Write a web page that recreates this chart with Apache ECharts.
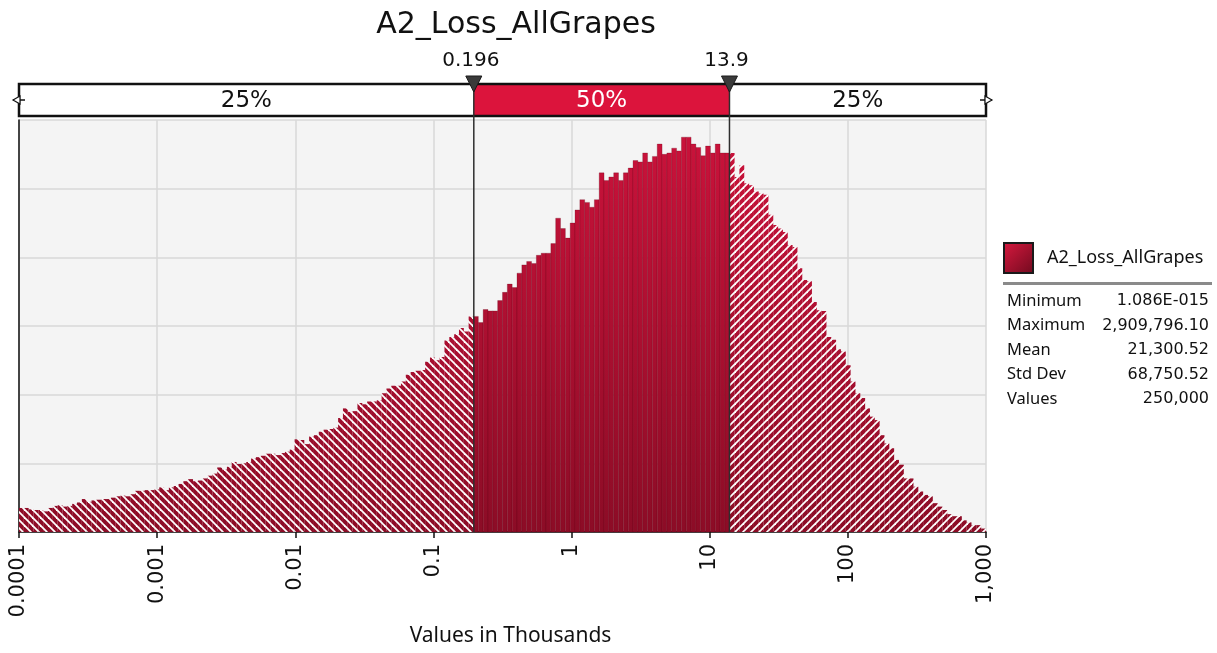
<!DOCTYPE html>
<html>
<head>
<meta charset="utf-8">
<script src="https://cdn.jsdelivr.net/npm/echarts/dist/echarts.min.js"></script>
<style>
  html, body { margin: 0; padding: 0; background: #fff; }
  #chart { width: 1217px; height: 653px; }
</style>
</head>
<body>
<div id="chart"></div>
<script>
// histogram: 200 log-spaced bins from 0.0001 to 1,000 (values in thousands)
const binLogMin = -4
const binLogMax = 3
const binHeights = [
  0.35, 0.35, 0.33, 0.32, 0.32, 0.30, 0.35, 0.38, 0.39, 0.37,
  0.38, 0.41, 0.43, 0.48, 0.44, 0.46, 0.47, 0.48, 0.48, 0.50,
  0.52, 0.53, 0.52, 0.55, 0.60, 0.60, 0.61, 0.61, 0.62, 0.65,
  0.61, 0.65, 0.67, 0.70, 0.74, 0.77, 0.74, 0.75, 0.78, 0.82,
  0.85, 0.94, 0.91, 0.95, 1.02, 0.99, 1.00, 1.02, 1.07, 1.09,
  1.11, 1.14, 1.14, 1.12, 1.15, 1.17, 1.20, 1.35, 1.34, 1.28,
  1.39, 1.41, 1.46, 1.49, 1.50, 1.52, 1.66, 1.80, 1.75, 1.76,
  1.88, 1.86, 1.90, 1.90, 1.92, 2.02, 2.09, 2.13, 2.13, 2.19,
  2.29, 2.33, 2.35, 2.36, 2.48, 2.54, 2.50, 2.55, 2.79, 2.84,
  2.88, 2.97, 2.92, 3.14, 3.14, 3.05, 3.24, 3.22, 3.22, 3.37,
  3.49, 3.61, 3.56, 3.77, 3.89, 3.94, 3.91, 4.03, 4.06, 4.06,
  4.20, 4.57, 4.42, 4.28, 4.50, 4.69, 4.84, 4.80, 4.73, 4.84,
  5.23, 5.12, 5.17, 5.23, 5.12, 5.23, 5.30, 5.41, 5.39, 5.52,
  5.39, 5.47, 5.65, 5.50, 5.52, 5.59, 5.55, 5.75, 5.75, 5.65,
  5.60, 5.48, 5.62, 5.52, 5.65, 5.52, 5.52, 5.52, 5.17, 5.34,
  5.08, 5.05, 4.96, 4.93, 4.91, 4.62, 4.47, 4.42, 4.37, 4.18,
  4.15, 3.84, 3.67, 3.65, 3.35, 3.23, 3.22, 2.84, 2.80, 2.66,
  2.63, 2.43, 2.19, 2.02, 1.95, 1.80, 1.68, 1.63, 1.41, 1.29,
  1.22, 1.05, 0.98, 0.78, 0.78, 0.66, 0.59, 0.54, 0.52, 0.42,
  0.37, 0.32, 0.26, 0.23, 0.23, 0.17, 0.14, 0.10, 0.10, 0.05
]
const quantiles = [0.196, 13.9]
const quantileLabels = ['0.196', '13.9']
const shareLabels = ['25%', '50%', '25%']
const xTicks = [0.0001, 0.001, 0.01, 0.1, 1, 10, 100, 1000]
const xTickLabels = ['0.0001', '0.001', '0.01', '0.1', '1', '10', '100', '1,000']
const statNames = ['Minimum', 'Maximum', 'Mean', 'Std Dev', 'Values']
const statValues = ['1.086E-015', '2,909,796.10', '21,300.52', '68,750.52', '250,000']
const seriesName = 'A2_Loss_AllGrapes'

const FONT = 'DejaVu Sans'
const FONT2 = 'Noto Sans'

// bins split at the two quantile markers
const step = (binLogMax - binLogMin) / binHeights.length
const leftBins = []
const midBins = []
const rightBins = []
binHeights.forEach(function (h, i) {
  const lo = Math.pow(10, binLogMin + i * step)
  const hi = Math.pow(10, binLogMin + (i + 1) * step)
  if (lo < quantiles[0]) leftBins.push([lo, Math.min(hi, quantiles[0]), h])
  if (hi > quantiles[0] && lo < quantiles[1]) midBins.push([Math.max(lo, quantiles[0]), Math.min(hi, quantiles[1]), h])
  if (hi > quantiles[1]) rightBins.push([Math.max(lo, quantiles[1]), hi, h])
})

// fill tile: vertical red gradient, optional white diagonal hatching
function makeTile (dir) {
  const w = 8
  const h = 653
  const c = document.createElement('canvas')
  c.width = w
  c.height = h
  const ctx = c.getContext('2d')
  const g = ctx.createLinearGradient(0, 150, 0, 532)
  g.addColorStop(0, '#c8123a')
  g.addColorStop(1, '#8c0c26')
  ctx.fillStyle = g
  ctx.fillRect(0, 0, w, h)
  if (dir) {
    ctx.strokeStyle = '#ffffff'
    ctx.lineWidth = 1.9
    for (let k = -h - w; k <= 2 * h; k += w) {
      ctx.beginPath()
      ctx.moveTo(k, 0)
      ctx.lineTo(dir > 0 ? k + h : k - h, h)
      ctx.stroke()
    }
  }
  return c
}
const solidFill = { image: makeTile(0), repeat: 'repeat' }
const backFill = { image: makeTile(1), repeat: 'repeat' }
const fwdFill = { image: makeTile(-1), repeat: 'repeat' }

function binRenderer (fill, stroke) {
  return function (params, api) {
    const a = api.coord([api.value(0), 0])
    const b = api.coord([api.value(1), api.value(2)])
    return {
      type: 'rect',
      shape: { x: a[0], y: b[1], width: b[0] - a[0], height: a[1] - b[1] },
      style: { fill: fill, stroke: stroke, lineWidth: stroke ? 0.7 : 0 }
    }
  }
}

const chart = echarts.init(document.getElementById('chart'))

const option = {
  animation: false,
  backgroundColor: '#ffffff',
  title: {
    text: 'A2_Loss_AllGrapes',
    left: 511,
    textAlign: 'center',
    top: 5,
    textStyle: { fontFamily: FONT, fontSize: 30, fontWeight: 'normal', color: '#111' }
  },
  legend: {
    data: [seriesName],
    left: 1003,
    top: 242,
    padding: 0,
    icon: 'rect',
    itemWidth: 29,
    itemHeight: 30,
    itemStyle: {
      color: new echarts.graphic.LinearGradient(0, 0, 1, 1, [
        { offset: 0, color: '#d8193f' },
        { offset: 1, color: '#700a1e' }
      ]),
      borderColor: '#1a1a1a',
      borderWidth: 2
    },
    textStyle: { fontFamily: FONT2, fontSize: 18, color: '#111', padding: [0, 0, 0, 9] }
  },
  grid: {
    left: 19,
    right: 231,
    top: 120,
    bottom: 121,
    show: true,
    backgroundColor: '#f4f4f4',
    borderWidth: 0,
    containLabel: false,
    outerBoundsMode: 'none'
  },
  xAxis: {
    type: 'log',
    logBase: 10,
    min: xTicks[0],
    max: xTicks[xTicks.length - 1],
    splitNumber: 7,
    name: 'Values in Thousands',
    nameLocation: 'middle',
    nameGap: 94,
    nameTextStyle: { fontFamily: FONT2, fontSize: 21, color: '#111', padding: [0, 0, 0, 16] },
    axisLine: { show: true, lineStyle: { color: '#111', width: 1.5 } },
    axisTick: { show: true, length: 6, lineStyle: { color: '#111', width: 1.5 } },
    minorTick: { show: false },
    axisLabel: {
      rotate: 90,
      margin: 12,
      fontFamily: FONT,
      fontSize: 21,
      color: '#111',
      showMinLabel: true,
      showMaxLabel: true,
      formatter: function (v) {
        const i = xTicks.findIndex(function (t) { return Math.abs(Math.log10(t) - Math.log10(v)) < 1e-6 })
        return i >= 0 ? xTickLabels[i] : ''
      }
    },
    splitLine: { show: true, lineStyle: { color: '#d8d8d8', width: 1.5 } }
  },
  yAxis: {
    type: 'value',
    min: 0,
    max: 6,
    interval: 1,
    axisLine: { show: true, lineStyle: { color: '#111', width: 1.5 } },
    axisTick: { show: false },
    axisLabel: { show: false },
    splitLine: { show: true, lineStyle: { color: '#d8d8d8', width: 1.5 } }
  },
  series: [
    {
      name: 'lower 25%',
      type: 'custom',
      renderItem: binRenderer(backFill, null),
      encode: { x: [0, 1], y: 2 },
      data: leftBins,
      z: 2
    },
    {
      name: seriesName,
      type: 'custom',
      renderItem: binRenderer(solidFill, 'rgba(95,0,20,0.35)'),
      encode: { x: [0, 1], y: 2 },
      data: midBins,
      z: 2
    },
    {
      name: 'upper 25%',
      type: 'custom',
      renderItem: binRenderer(fwdFill, null),
      encode: { x: [0, 1], y: 2 },
      data: rightBins,
      z: 2
    }
  ]
}
chart.setOption(option)

// percentile band, markers and statistics panel placed through the axis scale
function overlay () {
  const xp = function (v) { return chart.convertToPixel({ xAxisIndex: 0 }, v) }
  const y0 = chart.convertToPixel({ yAxisIndex: 0 }, 0)
  const xs = [xp(xTicks[0]), xp(quantiles[0]), xp(quantiles[1]), xp(xTicks[xTicks.length - 1])]
  const bandTop = 84
  const bandH = 32
  const els = []
  const fills = ['#ffffff', '#dc143c', '#ffffff']
  const textColors = ['#111', '#ffffff', '#111']
  for (let i = 0; i < 3; i++) {
    els.push({
      type: 'rect',
      shape: { x: xs[i], y: bandTop, width: xs[i + 1] - xs[i], height: bandH },
      style: { fill: fills[i] },
      z: 10
    })
    els.push({
      type: 'text',
      x: (xs[i] + xs[i + 1]) / 2,
      y: bandTop + bandH / 2 + 1,
      style: {
        text: shareLabels[i], fill: textColors[i], fontFamily: FONT, fontSize: 23,
        align: 'center', verticalAlign: 'middle'
      },
      z: 12
    })
  }
  els.push({
    type: 'rect',
    shape: { x: xs[0], y: bandTop, width: xs[3] - xs[0], height: bandH },
    style: { fill: 'none', stroke: '#111', lineWidth: 2.5 },
    z: 11
  })
  // end handles
  els.push({
    type: 'polyline',
    shape: { points: [[xs[0] - 6, bandTop + bandH / 2], [xs[0] + 6, bandTop + bandH / 2]] },
    style: { stroke: '#111', lineWidth: 1.5 },
    z: 12
  })
  els.push({
    type: 'polygon',
    shape: { points: [[xs[0] - 6, bandTop + bandH / 2], [xs[0] + 1, bandTop + bandH / 2 - 4], [xs[0] + 1, bandTop + bandH / 2 + 4]] },
    style: { fill: '#fff', stroke: '#111', lineWidth: 1.2 },
    z: 12
  })
  els.push({
    type: 'polyline',
    shape: { points: [[xs[3] - 6, bandTop + bandH / 2], [xs[3] + 6, bandTop + bandH / 2]] },
    style: { stroke: '#111', lineWidth: 1.5 },
    z: 12
  })
  els.push({
    type: 'polygon',
    shape: { points: [[xs[3] + 6, bandTop + bandH / 2], [xs[3] - 1, bandTop + bandH / 2 - 4], [xs[3] - 1, bandTop + bandH / 2 + 4]] },
    style: { fill: '#fff', stroke: '#111', lineWidth: 1.2 },
    z: 12
  })
  // quantile markers
  for (let q = 0; q < 2; q++) {
    const x = xs[q + 1]
    els.push({
      type: 'line',
      shape: { x1: x, y1: 90, x2: x, y2: y0 },
      style: { stroke: '#2e2e2e', lineWidth: 1.5 },
      z: 13
    })
    els.push({
      type: 'polygon',
      shape: { points: [[x - 8, 76], [x + 8, 76], [x, 92]] },
      style: { fill: '#3a3a3a', stroke: '#1a1a1a', lineWidth: 1 },
      z: 14
    })
    els.push({
      type: 'text',
      x: x - 3,
      y: 61,
      style: {
        text: quantileLabels[q], fill: '#111', fontFamily: FONT, fontSize: 20,
        align: 'center', verticalAlign: 'middle'
      },
      z: 14
    })
  }
  // statistics panel
  els.push({
    type: 'rect',
    shape: { x: 1003, y: 282, width: 209, height: 3 },
    style: { fill: '#8a8a8a' },
    z: 10
  })
  statNames.forEach(function (n, i) {
    const y = 301 + i * 24.5
    els.push({
      type: 'text', x: 1007, y: y,
      style: { text: n, fill: '#111', fontFamily: FONT2, fontSize: 16.5, align: 'left', verticalAlign: 'middle' },
      z: 10
    })
    els.push({
      type: 'text', x: 1209, y: y,
      style: { text: statValues[i], fill: '#111', fontFamily: FONT, fontSize: 16, align: 'right', verticalAlign: 'middle' },
      z: 10
    })
  })
  chart.setOption({ graphic: els })
}
overlay()
</script>
</body>
</html>
